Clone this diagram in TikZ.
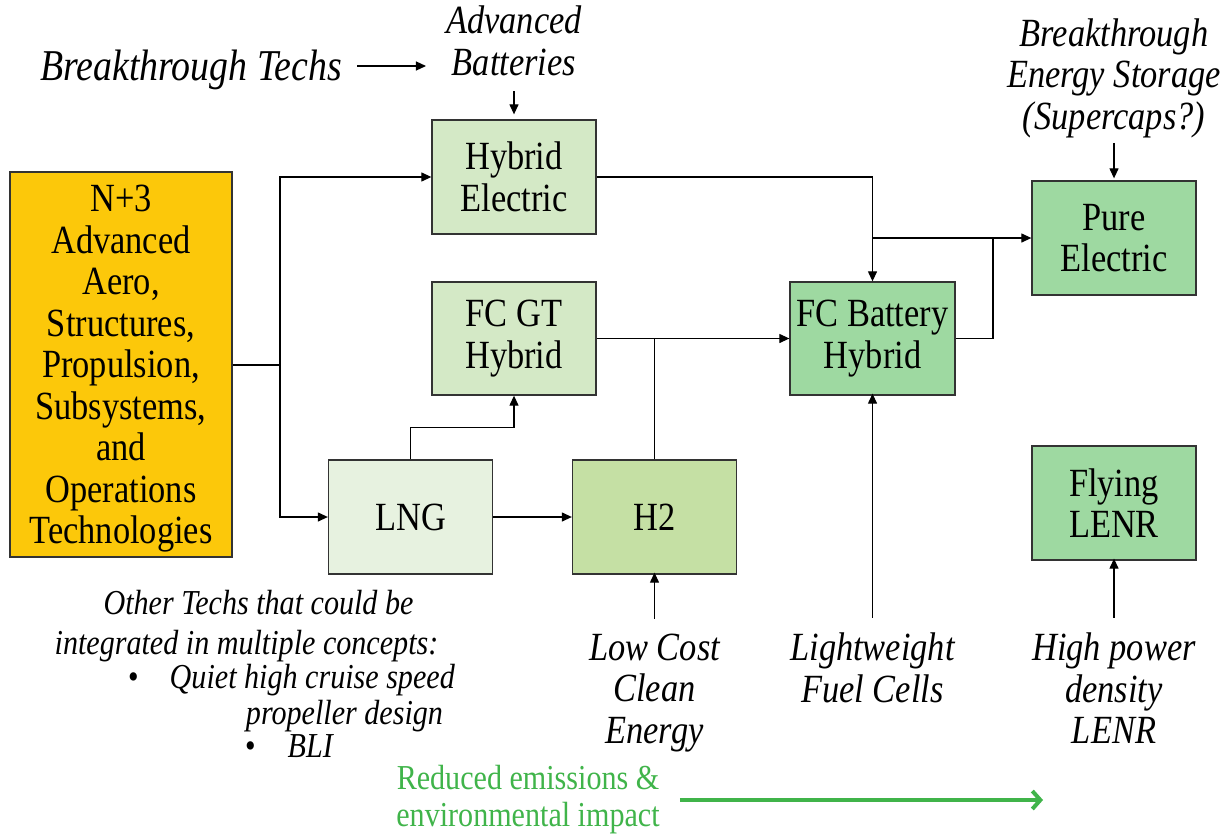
\documentclass[tikz,border=0pt]{standalone}
\usepackage{fontspec}
\setmainfont{Liberation Serif}[FakeStretch=0.86]
\usetikzlibrary{arrows.meta}
\definecolor{goldbox}{RGB}{252,200,10}
\definecolor{palegreen}{RGB}{212,233,198}
\definecolor{lnggreen}{RGB}{231,242,224}
\definecolor{htwogreen}{RGB}{197,224,164}
\definecolor{midgreen}{RGB}{158,217,161}
\definecolor{impactgreen}{RGB}{64,180,74}

\begin{document}
\begin{tikzpicture}[x=1pt,y=-1pt,
  box/.style={draw=black!80,line width=1.3pt,minimum width=164pt,minimum height=114pt,
    align=center,inner sep=0pt,font=\fontsize{40}{41.5}\selectfont},
  lbl/.style={align=center,inner sep=0pt,font=\fontsize{40}{41.5}\selectfont\itshape},
  small/.style={inner sep=0pt,font=\fontsize{35}{35}\selectfont\itshape},
  conn/.style={line width=1.2pt},
  arr/.style={line width=1.2pt,-{Triangle[length=10pt,width=9pt]}}]
\useasboundingbox (0,0) rectangle (1230,835);
% concept boxes
\node[box,fill=goldbox,minimum width=222pt,minimum height=385pt,text depth=0pt] (ntre) at (121,364.5)
  {N+3\\Advanced\\Aero,\\Structures,\\Propulsion,\\Subsystems,\\and\\Operations\\Technologies};
\node[box,fill=palegreen] (hybel) at (514,177) {Hybrid\\Electric};
\node[box,fill=palegreen,minimum height=113pt] (fcgt) at (514,338.5) {FC GT\\Hybrid};
\node[box,fill=lnggreen] (lng) at (410.5,517) {LNG};
\node[box,fill=htwogreen] (htwo) at (654.5,517) {H2};
\node[box,fill=midgreen,minimum width=165pt,minimum height=113pt] (fcbat) at (872.5,338.5) {FC Battery\\Hybrid};
\node[box,fill=midgreen] (pure) at (1114,238) {Pure\\Electric};
\node[box,fill=midgreen] (lenr) at (1114,503) {Flying\\LENR};
% technology labels
\node[lbl,font=\fontsize{44}{44}\selectfont\itshape] (bt) at (191,70) {Breakthrough Techs};
\node[lbl] (advbat) at (514,41) {Advanced\\Batteries};
\node[lbl] (bes) at (1114,78) {Breakthrough\\Energy Storage\\(Supercaps?)};
\node[lbl] (lowcost) at (654.5,693) {Low Cost\\Clean\\Energy};
\node[lbl] (lwfc) at (872.5,668) {Lightweight\\Fuel Cells};
\node[lbl] (hpd) at (1114,688.5) {High power\\density\\LENR};
% other techs
\node[small] (oth1) at (258.5,603) {Other Techs that could be};
\node[small] (oth2) at (246.5,646.5) {integrated in multiple concepts:};
\node[small,anchor=west] (oth3) at (128,680) {{\upshape\textbullet}\hspace{31pt}Quiet high cruise speed};
\node[small] (oth4) at (344.5,716) {propeller design};
\node[small,anchor=west] (oth5) at (245,746) {{\upshape\textbullet}\hspace{32pt}BLI};
\node[align=center,inner sep=0pt,text=impactgreen,font=\fontsize{35}{37}\selectfont] (impact) at (528,800)
  {Reduced emissions \&\\environmental impact};
\coordinate (split) at (280,365);
\coordinate (merge) at (993,238);
\coordinate (impactend) at (1043,798);
% connectors
\draw[conn] (ntre.east |- split) -- (split);
\draw[arr] (split) |- (hybel);
\draw[arr] (split) |- (lng);
\draw[arr] (lng.north) -- ++(0,-32) -| (fcgt.south);
\draw[arr] (lng) -- (htwo);
\draw[arr] (fcgt) -- (fcbat);
\draw[conn] (htwo.north) -- (htwo.north |- fcgt.east);
\draw[arr] (hybel.east) -| (fcbat.north);
\draw[arr] (fcbat.north |- pure.west) -- (pure.west);
\draw[conn] (fcbat.east) -| (merge);
% label arrows
\draw[arr,shorten <=15pt,shorten >=20pt] ([yshift=4pt]bt.east) -- ([yshift=4pt]bt.east -| advbat.west);
\draw[arr,shorten <=15pt,shorten >=5pt] (advbat.south) -- (hybel.north);
\draw[arr,shorten <=5pt,shorten >=2pt] (bes.south) -- (pure.north);
\draw[arr,shorten <=15pt,shorten >=-2pt] (lowcost.north) -- (htwo.south);
\draw[arr,shorten <=15pt,shorten >=-2pt] (lwfc.north) -- (fcbat.south);
\draw[arr,shorten <=15pt,shorten >=-2pt] (hpd.north) -- (lenr.south);
\draw[impactgreen,line width=4pt,-{Straight Barb[length=8pt,width=18pt]},shorten <=20pt]
  (impact.east) -- (impact.east -| impactend);
\end{tikzpicture}
\end{document}
